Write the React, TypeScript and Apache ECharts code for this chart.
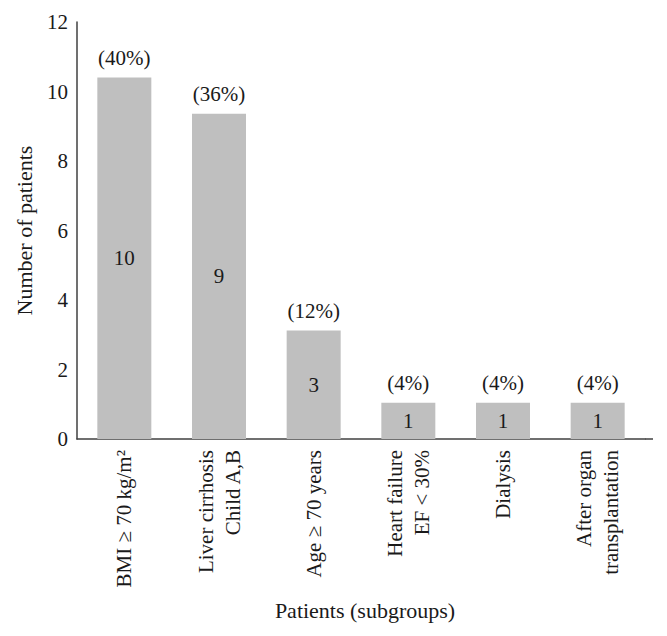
import React, { useEffect, useRef } from "react";
import * as echarts from "echarts";

const categories = [
  "BMI ≥ 70 kg/m²",
  "Liver cirrhosis\nChild A,B",
  "Age ≥ 70 years",
  "Heart failure\nEF < 30%",
  "Dialysis",
  "After organ\ntransplantation",
];
// bar heights as drawn in the reference
const barHeights = [10.4, 9.36, 3.12, 1.04, 1.04, 1.04];
const counts = [10, 9, 3, 1, 1, 1];
const percents = ["(40%)", "(36%)", "(12%)", "(4%)", "(4%)", "(4%)"];
const yTicks = { min: 0, max: 12, interval: 2 };

const FONT = "'Liberation Serif', 'DejaVu Serif', serif";
const TEXT = "#1a1a1a";

export default function App() {
  const ref = useRef<HTMLDivElement>(null);
  useEffect(() => {
    document.body.style.margin = "0";
    if (!ref.current) return;
    const chart = echarts.init(ref.current, undefined, { renderer: "svg" });
    chart.setOption({
      animation: false,
      backgroundColor: "#ffffff",
      grid: { left: 77, top: 22, width: 568, height: 417, containLabel: false },
      xAxis: {
        type: "category",
        data: categories,
        name: "Patients (subgroups)",
        nameLocation: "middle",
        nameGap: 160,
        nameTextStyle: { fontFamily: FONT, fontSize: 22, color: TEXT, padding: [0, 0, 0, 8] },
        axisLine: { show: true, lineStyle: { color: "#404040", width: 1.5 } },
        axisTick: { show: false },
        axisLabel: {
          interval: 0,
          rotate: 90,
          margin: 11,
          fontFamily: FONT,
          fontSize: 21,
          lineHeight: 27,
          color: TEXT,
        },
      },
      yAxis: {
        type: "value",
        min: yTicks.min,
        max: yTicks.max,
        interval: yTicks.interval,
        name: "Number of patients",
        nameLocation: "middle",
        nameGap: 42,
        nameTextStyle: { fontFamily: FONT, fontSize: 22, color: TEXT },
        axisLine: { show: true, lineStyle: { color: "#404040", width: 1.5 } },
        axisTick: { show: false },
        splitLine: { show: false },
        axisLabel: { margin: 9, fontFamily: FONT, fontSize: 21, color: TEXT },
      },
      graphic: [
        {
          type: "line",
          shape: { x1: 645, y1: 439, x2: 653, y2: 439 },
          style: { stroke: "#404040", lineWidth: 1.5 },
        },
      ],
      series: [
        {
          type: "bar",
          data: barHeights,
          barWidth: 54,
          itemStyle: { color: "#bfbfbf" },
          label: {
            show: true,
            position: "inside",
            fontFamily: FONT,
            fontSize: 21,
            color: TEXT,
            formatter: (p: any) => String(counts[p.dataIndex]),
          },
        },
        {
          type: "bar",
          data: barHeights,
          barWidth: 54,
          barGap: "-100%",
          itemStyle: { color: "rgba(0,0,0,0)" },
          label: {
            show: true,
            position: "top",
            distance: 9,
            fontFamily: FONT,
            fontSize: 21,
            color: TEXT,
            formatter: (p: any) => percents[p.dataIndex],
          },
          z: 3,
        },
      ],
    });
    return () => chart.dispose();
  }, []);
  return <div ref={ref} style={{ width: 667, height: 636 }} />;
}
